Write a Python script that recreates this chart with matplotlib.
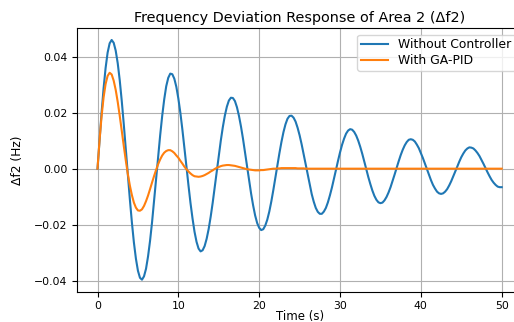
import matplotlib
matplotlib.use("Agg")
import numpy as np
import matplotlib.pyplot as plt

# time grid of the readings (s)
t_open = np.arange(0, 50.01, 0.25)
t_pid = list(np.arange(0, 26.01, 0.25)) + [30, 35, 40, 45, 50]

# Without Controller, one row per 2 s
df2_open = [
    0.0000, 0.0102, 0.0199, 0.0286, 0.0359, 0.0414, 0.0447, 0.0459,
    0.0449, 0.0421, 0.0376, 0.0315, 0.0241, 0.0158, 0.0069, -0.0021,
    -0.0109, -0.0191, -0.0263, -0.0321, -0.0364, -0.0389, -0.0396, -0.0384,
    -0.0357, -0.0313, -0.0257, -0.0190, -0.0115, -0.0036, 0.0043, 0.0119,
    0.0188, 0.0247, 0.0294, 0.0324, 0.0339, 0.0337, 0.0321, 0.0292,
    0.0250, 0.0199, 0.0139, 0.0075, 0.0008, -0.0059, -0.0122, -0.0177,
    -0.0225, -0.0261, -0.0285, -0.0295, -0.0291, -0.0276, -0.0250, -0.0215,
    -0.0171, -0.0121, -0.0066, -0.0009, 0.0047, 0.0100, 0.0148, 0.0189,
    0.0221, 0.0243, 0.0253, 0.0252, 0.0241, 0.0219, 0.0188, 0.0150,
    0.0106, 0.0057, 0.0007, -0.0042, -0.0089, -0.0131, -0.0167, -0.0194,
    -0.0211, -0.0219, -0.0216, -0.0203, -0.0182, -0.0153, -0.0117, -0.0076,
    -0.0032, 0.0012, 0.0055, 0.0095, 0.0130, 0.0158, 0.0178, 0.0188,
    0.0189, 0.0182, 0.0168, 0.0146, 0.0119, 0.0087, 0.0051, 0.0014,
    -0.0023, -0.0059, -0.0091, -0.0118, -0.0140, -0.0154, -0.0161, -0.0161,
    -0.0153, -0.0140, -0.0120, -0.0095, -0.0067, -0.0036, -0.0004, 0.0028,
    0.0058, 0.0085, 0.0107, 0.0125, 0.0136, 0.0141, 0.0139, 0.0131,
    0.0118, 0.0100, 0.0078, 0.0053, 0.0026, -0.0002, -0.0030, -0.0055,
    -0.0078, -0.0097, -0.0111, -0.0120, -0.0123, -0.0121, -0.0113, -0.0101,
    -0.0085, -0.0066, -0.0044, -0.0021, 0.0003, 0.0026, 0.0048, 0.0067,
    0.0083, 0.0095, 0.0103, 0.0105, 0.0103, 0.0097, 0.0086, 0.0073,
    0.0056, 0.0038, 0.0018, -0.0003, -0.0023, -0.0041, -0.0058, -0.0071,
    -0.0082, -0.0088, -0.0090, -0.0088, -0.0082, -0.0073, -0.0060, -0.0045,
    -0.0028, -0.0011, 0.0007, 0.0025, 0.0041, 0.0054, 0.0065, 0.0072,
    0.0076, 0.0075, 0.0072, 0.0065, 0.0056, 0.0045, 0.0031, 0.0017,
    0.0002, -0.0013, -0.0027, -0.0040, -0.0050, -0.0058, -0.0064, -0.0066,
    -0.0066,
]

# With GA-PID, settled to zero after ~26 s
df2_pid = [
    0.0000, 0.0101, 0.0186, 0.0254, 0.0302, 0.0331, 0.0342, 0.0336,
    0.0314, 0.0281, 0.0238, 0.0188, 0.0135, 0.0081, 0.0029, -0.0019,
    -0.0060, -0.0094, -0.0121, -0.0139, -0.0149, -0.0150, -0.0145, -0.0133,
    -0.0116, -0.0096, -0.0073, -0.0049, -0.0026, -0.0004, 0.0016, 0.0033,
    0.0047, 0.0057, 0.0063, 0.0066, 0.0066, 0.0062, 0.0056, 0.0047,
    0.0039, 0.0028, 0.0018, 0.0007, -0.0002, -0.0010, -0.0017, -0.0023,
    -0.0027, -0.0028, -0.0029, -0.0028, -0.0026, -0.0023, -0.0019, -0.0015,
    -0.0010, -0.0006, -0.0001, 0.0003, 0.0006, 0.0009, 0.0011, 0.0012,
    0.0013, 0.0013, 0.0012, 0.0011, 0.0010, 0.0008, 0.0006, 0.0004,
    0.0002, 0.0000, -0.0002, -0.0003, -0.0004, -0.0005, -0.0006, -0.0006,
    -0.0006, -0.0005, -0.0005, -0.0004, -0.0003, -0.0002, -0.0001, 0.0000,
    0.0000, 0.0001, 0.0001, 0.0002, 0.0002, 0.0002, 0.0002, 0.0002,
    0.0002, 0.0002, 0.0002, 0.0001, 0.0001, 0.0001, 0.0001, 0.0000,
    0.0000,
    0.0, 0.0, 0.0, 0.0, 0.0,
]

fig = plt.figure(figsize=(5.14, 3.22), dpi=100)
ax = fig.add_axes([0.1504, 0.0941, 0.865, 0.819])

ax.plot(t_open, df2_open, color='#1f77b4', lw=1.5, label='Without Controller')
ax.plot(t_pid, df2_pid, color='#ff7f0e', lw=1.5, label='With GA-PID')

ax.set_title('Frequency Deviation Response of Area 2 (Δf2)', fontsize=10.4, pad=4)
ax.set_xlabel('Time (s)', fontsize=8.5, labelpad=-1)
ax.set_ylabel('Δf2 (Hz)', fontsize=8.8, labelpad=7)
ax.tick_params(labelsize=7.8)
ax.legend(loc='upper right', fontsize=8.9, labelspacing=0.2, borderpad=0.3,
          handlelength=2.2, borderaxespad=0.55)
ax.grid(True)

fig.savefig('out.png', dpi=100)
